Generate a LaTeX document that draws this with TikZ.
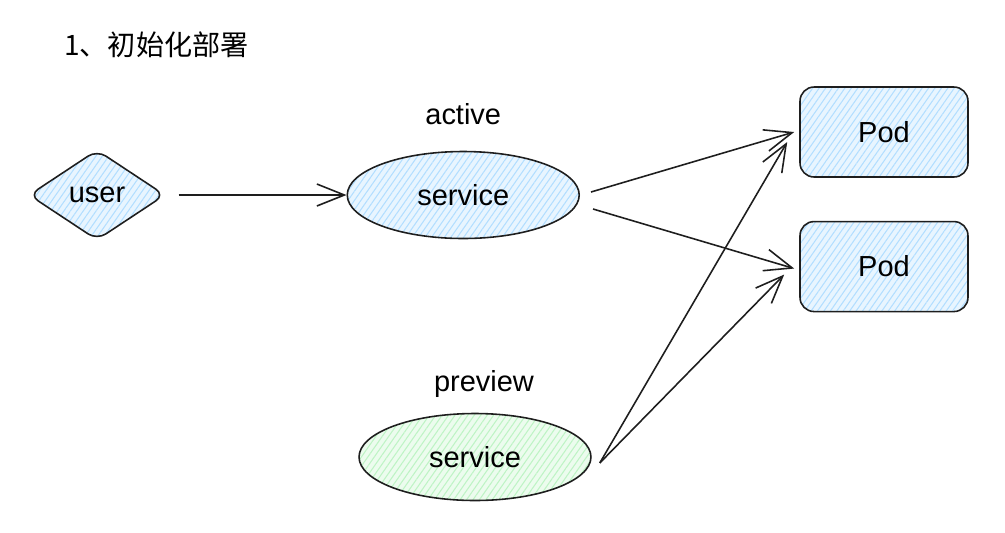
\documentclass[tikz,border=0pt]{standalone}
\usepackage{fontspec}
\setmainfont{Liberation Sans}
\newfontfamily\cjk{Noto Sans CJK SC}
\usetikzlibrary{arrows.meta, positioning, shapes.geometric, patterns.meta}
\definecolor{inkblack}{RGB}{30,30,30}
\definecolor{hatchblue}{RGB}{165,216,255}
\definecolor{hatchgreen}{RGB}{178,242,187}

\begin{document}
\begin{tikzpicture}[
		x=0.02cm, y=-0.02cm,
		font=\fontsize{16.5}{19}\selectfont,
		bluehatch/.style={preaction={fill=hatchblue!25},
			pattern={Lines[angle=55, distance=3pt, line width=0.6pt]}, pattern color=hatchblue!85},
		greenhatch/.style={preaction={fill=hatchgreen!25},
			pattern={Lines[angle=55, distance=3pt, line width=0.6pt]}, pattern color=hatchgreen!85},
		userbox/.style={diamond, draw=inkblack, line width=0.9pt, rounded corners=6pt,
			minimum width=2.72cm, minimum height=1.8cm, inner sep=0pt, bluehatch},
		svcbox/.style={ellipse, draw=inkblack, line width=0.9pt,
			minimum width=4.64cm, minimum height=1.74cm, inner sep=0pt},
		podbox/.style={draw=inkblack, line width=0.9pt, rounded corners=8pt,
			minimum width=3.36cm, minimum height=1.8cm, bluehatch},
		arrow/.style={-{Straight Barb[length=5.5mm, width=4.4mm]}, line width=0.9pt, draw=inkblack}
	]
		\useasboundingbox (0,0) rectangle (1005,532);
		\node[anchor=west, font=\cjk\fontsize{16}{19}\selectfont] (title) at (58,45) {1、初始化部署};
		\node[userbox] (user) at (97,195) {user};
		\node[svcbox, bluehatch, right=3.62cm of user] (active) {service};
		\node[above=0.4cm of active] (activelbl) {active};
		\node[svcbox, greenhatch] (preview) at (475,457) {service};
		\node (previewlbl) at (484,384) {preview};
		\node[podbox] (pod1) at (884,132) {Pod};
		\node[podbox, below=0.86cm of pod1] (pod2) {Pod};
		\draw[arrow, shorten <=0.26cm] (user) -- (active);
		\draw[arrow] ([xshift=0.22cm, yshift=0.06cm]active.east) -- ([xshift=-0.1cm]pod1.west);
		\draw[arrow] ([xshift=0.26cm, yshift=-0.28cm]active.east) -- ([xshift=-0.1cm, yshift=-0.04cm]pod2.west);
		\draw[arrow] ([xshift=0.16cm, yshift=-0.12cm]preview.east) -- ([xshift=-0.24cm, yshift=-0.2cm]pod1.west);
		\draw[arrow] ([xshift=0.16cm, yshift=-0.12cm]preview.east) -- ([xshift=-0.3cm, yshift=-0.16cm]pod2.west);
	\end{tikzpicture}
\end{document}
